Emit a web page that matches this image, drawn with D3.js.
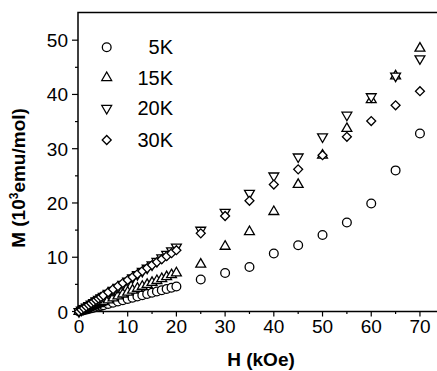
<!DOCTYPE html>
<html lang="en">
<head>
<meta charset="UTF-8">
<title>M vs H</title>
<script src="https://d3js.org/d3.v7.min.js"></script>
<style>
  body { margin: 0; background: #fff; }
  svg { display: block; font-family: "Liberation Sans", Arial, sans-serif; }
</style>
</head>
<body>
<script>
// field values (kOe), shared by every series
const fields = [0, 0.5, 1, 1.5, 2, 2.5, 3, 3.5, 4, 4.5, 5, 6, 7, 8, 9, 10, 11, 12, 13, 14, 15, 16, 17, 18, 19, 20,
                25, 30, 35, 40, 45, 50, 55, 60, 65, 70];

// magnetisation (10^3 emu/mol)
const m5K  = [0, 0.12, 0.23, 0.35, 0.46, 0.58, 0.69, 0.81, 0.92, 1.04, 1.15, 1.38, 1.61, 1.84, 2.07, 2.3, 2.53, 2.76, 2.99, 3.22, 3.45, 3.68, 3.91, 4.14, 4.37, 4.6,
              5.9, 7.1, 8.2, 10.7, 12.2, 14.1, 16.4, 19.9, 26.0, 32.8];
const m15K = [0, 0.18, 0.36, 0.53, 0.71, 0.89, 1.07, 1.24, 1.42, 1.6, 1.78, 2.13, 2.49, 2.84, 3.2, 3.55, 3.91, 4.26, 4.62, 4.97, 5.33, 5.68, 6.04, 6.39, 6.75, 7.1,
              8.7, 12.0, 14.7, 18.4, 23.4, 28.8, 33.7, 39.0, 43.4, 48.5];
const m20K = [0, 0.28, 0.56, 0.84, 1.12, 1.4, 1.68, 1.96, 2.24, 2.52, 2.8, 3.36, 3.92, 4.48, 5.04, 5.6, 6.2, 6.8, 7.4, 8.0, 8.6, 9.25, 9.9, 10.55, 11.2, 11.9,
              15.0, 18.3, 21.8, 25.0, 28.5, 32.2, 36.2, 39.6, 43.4, 46.6];
const m30K = [0, 0.32, 0.63, 0.93, 1.23, 1.52, 1.82, 2.11, 2.4, 2.69, 2.98, 3.55, 4.12, 4.68, 5.24, 5.8, 6.35, 6.9, 7.45, 8.0, 8.55, 9.1, 9.64, 10.2, 10.75, 11.3,
              14.4, 17.6, 20.4, 23.4, 26.2, 28.8, 32.2, 35.1, 38.0, 40.6];

const seriesNames = ['5K', '15K', '20K', '30K'];
const seriesValues = [m5K, m15K, m20K, m30K];
const xTicks = [0, 10, 20, 30, 40, 50, 60, 70];
const yTicks = [0, 10, 20, 30, 40, 50];

const W = 437, H = 371;
const svg = d3.select('body').append('svg').attr('width', W).attr('height', H);

const x = d3.scaleLinear().domain([-0.2, 73.5]).range([78, 437]);
const y = d3.scaleLinear().domain([0, 55.1]).range([311.5, 12.5]);

// frame: left, top, bottom (right side is cut off)
svg.append('path')
  .attr('d', `M437,12.5 H78 V311.5 H437`)
  .attr('fill', 'none').attr('stroke', '#000').attr('stroke-width', 1.5);

// x ticks
const xMinor = d3.range(5, 75, 10);
svg.selectAll('.xt').data(xTicks).enter().append('line')
  .attr('x1', d => x(d)).attr('x2', d => x(d))
  .attr('y1', 311.5).attr('y2', 316.5)
  .attr('stroke', '#000').attr('stroke-width', 1.2);
svg.selectAll('.xm').data(xMinor).enter().append('line')
  .attr('x1', d => x(d)).attr('x2', d => x(d))
  .attr('y1', 311.5).attr('y2', 314)
  .attr('stroke', '#000').attr('stroke-width', 1.2);
svg.selectAll('.xl').data(xTicks).enter().append('text')
  .attr('x', d => x(d)).attr('y', 333)
  .attr('text-anchor', 'middle').attr('font-size', 19)
  .text(d => d);

// y ticks
const yMinor = d3.range(5, 55, 10);
svg.selectAll('.yt').data(yTicks).enter().append('line')
  .attr('x1', 72).attr('x2', 78)
  .attr('y1', d => y(d)).attr('y2', d => y(d))
  .attr('stroke', '#000').attr('stroke-width', 1.2);
svg.selectAll('.ym').data(yMinor).enter().append('line')
  .attr('x1', 75).attr('x2', 78)
  .attr('y1', d => y(d)).attr('y2', d => y(d))
  .attr('stroke', '#000').attr('stroke-width', 1.2);
svg.selectAll('.yl').data(yTicks).enter().append('text')
  .attr('x', 68).attr('y', d => y(d) + 7)
  .attr('text-anchor', 'end').attr('font-size', 19)
  .text(d => d);

// axis titles
svg.append('text')
  .attr('x', 261).attr('y', 366)
  .attr('text-anchor', 'middle').attr('font-size', 19).attr('font-weight', 'bold')
  .text('H (kOe)');

const yTitle = svg.append('text')
  .attr('transform', 'translate(25,178) rotate(-90)')
  .attr('text-anchor', 'middle').attr('font-size', 19).attr('font-weight', 'bold');
yTitle.append('tspan').text('M (10');
yTitle.append('tspan').attr('font-size', 12).attr('dy', -7).text('3');
yTitle.append('tspan').attr('dy', 7).text('emu/mol)');

// marker shapes
const shapes = [
  { type: d3.symbolCircle, size: 60, rot: 0 },
  { type: d3.symbolTriangle, size: 42, rot: 0 },
  { type: d3.symbolTriangle, size: 42, rot: 180 },
  { type: d3.symbolSquare, size: 40, rot: 45 }
];

seriesValues.forEach((vals, i) => {
  const sh = shapes[i];
  const path = d3.symbol().type(sh.type).size(sh.size)();
  svg.append('g').selectAll('path').data(vals).enter().append('path')
    .attr('d', path)
    .attr('transform', (d, j) => `translate(${x(fields[j])},${y(d)}) rotate(${sh.rot})`)
    .attr('fill', '#fff').attr('stroke', '#000').attr('stroke-width', 1.3);
});

// legend
const legY = [47.3, 77.7, 108.3, 140];
seriesNames.forEach((name, i) => {
  const sh = shapes[i];
  svg.append('path')
    .attr('d', d3.symbol().type(sh.type).size(sh.size)())
    .attr('transform', `translate(106.7,${legY[i]}) rotate(${sh.rot})`)
    .attr('fill', '#fff').attr('stroke', '#000').attr('stroke-width', 1.3);
  svg.append('text')
    .attr('x', 173).attr('y', legY[i] + 7)
    .attr('text-anchor', 'end').attr('font-size', 20)
    .text(name);
});
</script>
</body>
</html>
